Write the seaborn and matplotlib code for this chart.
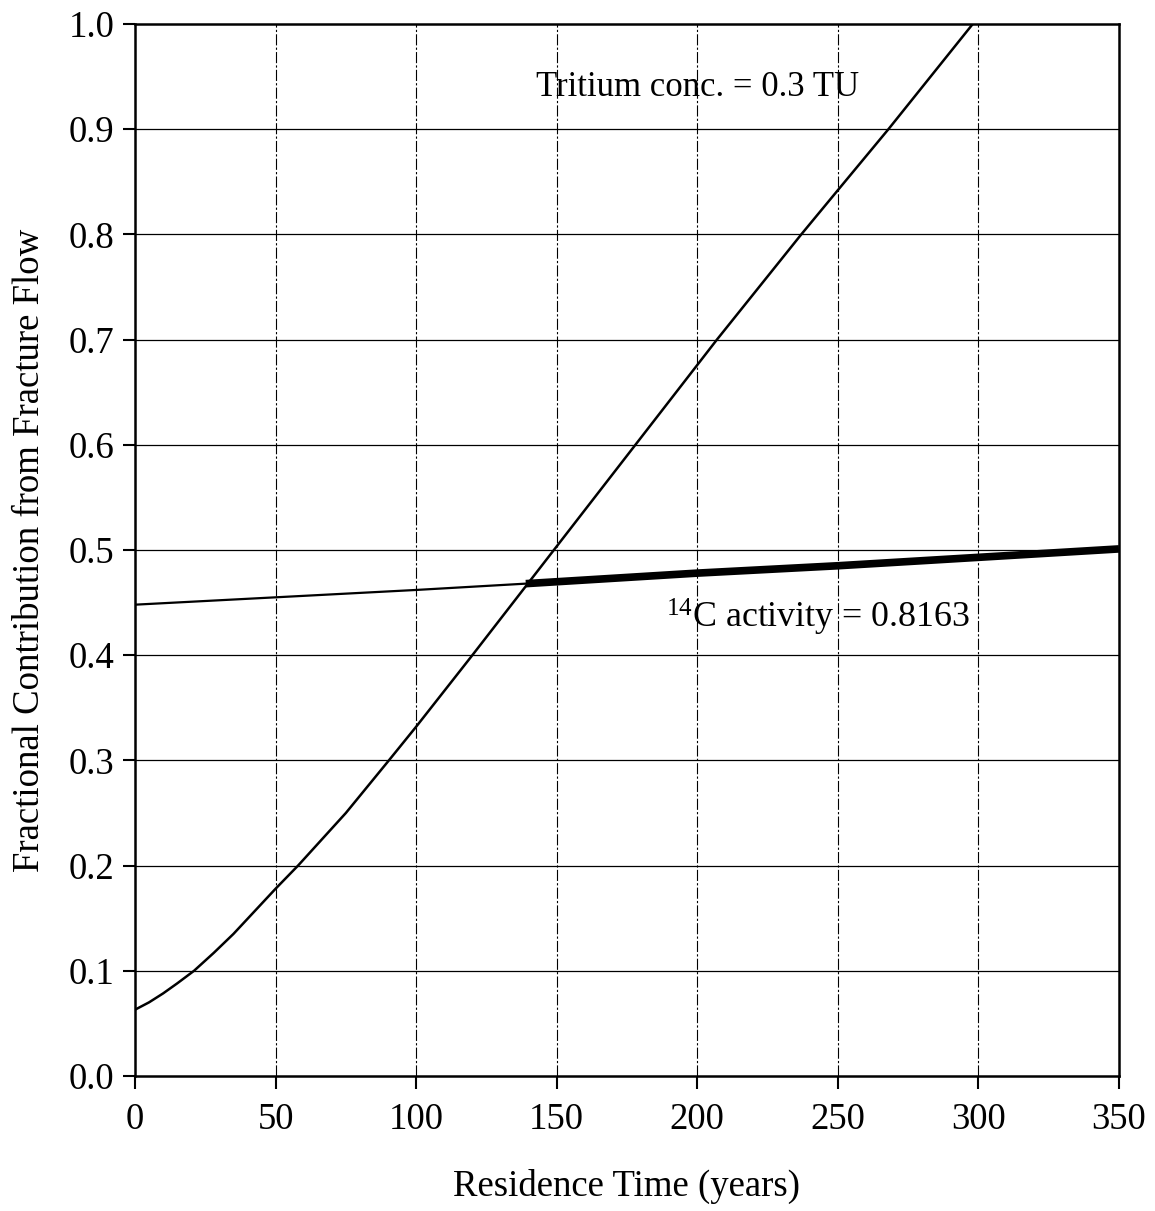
import matplotlib
matplotlib.use("Agg")
import matplotlib.pyplot as plt
import seaborn as sns
import pandas as pd

# Data
tritium_x = [0, 5, 10, 15, 21, 28, 35, 50, 58, 75, 90, 100, 120, 149, 178, 207, 237, 250, 268, 298]
tritium_y = [0.063, 0.070, 0.0785, 0.088, 0.100, 0.117, 0.135, 0.178, 0.200, 0.250, 0.299,
             0.332, 0.400, 0.500, 0.600, 0.700, 0.800, 0.842, 0.900, 1.000]

c14_thin_x = [0, 50, 100, 139]
c14_thin_y = [0.448, 0.455, 0.462, 0.468]
c14_thick_x = [139, 200, 250, 300, 350]
c14_thick_y = [0.468, 0.478, 0.485, 0.493, 0.501]

x_ticks = [0, 50, 100, 150, 200, 250, 300, 350]
y_ticks = [0.0, 0.1, 0.2, 0.3, 0.4, 0.5, 0.6, 0.7, 0.8, 0.9, 1.0]

sns.set_theme(style="white")
plt.rcParams['font.family'] = ['Liberation Serif', 'DejaVu Serif']
plt.rcParams['mathtext.fontset'] = 'custom'
plt.rcParams['mathtext.rm'] = 'Liberation Serif'
plt.rcParams['mathtext.it'] = 'Liberation Serif:italic'
plt.rcParams['mathtext.bf'] = 'Liberation Serif:bold'

fig = plt.figure(figsize=(11.55, 12.11), dpi=100)
ax = fig.add_axes([0.1169, 0.1115, 0.8519, 0.8687])

df_t = pd.DataFrame({"x": tritium_x, "y": tritium_y})
df_c1 = pd.DataFrame({"x": c14_thin_x, "y": c14_thin_y})
df_c2 = pd.DataFrame({"x": c14_thick_x, "y": c14_thick_y})

sns.lineplot(data=df_t, x="x", y="y", ax=ax, color="black", linewidth=1.8, sort=True)
sns.lineplot(data=df_c1, x="x", y="y", ax=ax, color="black", linewidth=1.6)
sns.lineplot(data=df_c2, x="x", y="y", ax=ax, color="black", linewidth=5.5, solid_capstyle="butt")

ax.set_xlim(0, 350)
ax.set_ylim(0, 1.0)
ax.set_xticks(x_ticks)
ax.set_yticks(y_ticks)
ax.set_xticklabels([str(v) for v in x_ticks])
ax.set_yticklabels([f"{v:.1f}" for v in y_ticks])

for y in y_ticks[1:-1]:
    ax.axhline(y, color="black", linewidth=0.9, zorder=0)
for x in x_ticks[1:-1]:
    ax.axvline(x, color="black", linewidth=0.8, linestyle=(0, (10, 2, 2, 2)), zorder=0)

for s in ax.spines.values():
    s.set_visible(True)
    s.set_color("black")
    s.set_linewidth(1.8)

ax.tick_params(axis="both", which="major", direction="out", length=9, width=1.5,
               colors="black", labelsize=26.5, left=True, bottom=True)
ax.tick_params(axis="x", pad=10)
ax.tick_params(axis="y", pad=6)

ax.set_xlabel("Residence Time (years)", fontsize=26.5, labelpad=23, color="black")
ax.set_ylabel("Fractional Contribution from Fracture Flow", fontsize=26.5, labelpad=15, color="black")

ax.text(200, 0.94, "Tritium conc. = 0.3 TU", fontsize=25, ha="center", va="center", color="black")
ax.text(189, 0.436, r"$^{\mathrm{14}}$C activity = 0.8163", fontsize=25.8, ha="left", va="center", color="black")

fig.savefig("out.png", dpi=100, facecolor="white")
